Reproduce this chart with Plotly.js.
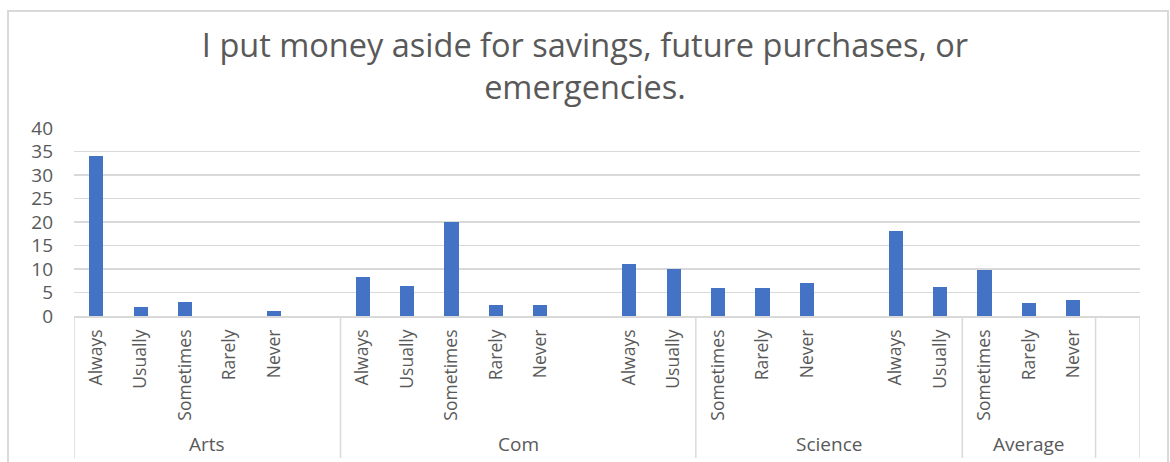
<!DOCTYPE html>
<html>
<head>
<meta charset="utf-8">
<script src="https://cdn.plot.ly/plotly-3.0.1.min.js"></script>
<style>
  html, body { margin: 0; padding: 0; background: #ffffff; }
  #chart { width: 1170px; height: 462px; }
</style>
</head>
<body>
<div id="chart"></div>
<script>
// ---- data ----
const titleText = "I put money aside for savings, future purchases, or<br>emergencies.";
const groupNames = ["Arts", "Com", "Science", "Average", ""];
const groupSizes = [6, 8, 6, 3, 1];
const categoryLabels = [
  "Always", "Usually", "Sometimes", "Rarely", "Never", "",
  "Always", "Usually", "Sometimes", "Rarely", "Never", "",
  "Always", "Usually", "Sometimes", "Rarely", "Never", "",
  "Always", "Usually", "Sometimes", "Rarely", "Never", ""
];
const values = [
  34, 2, 3, 0, 1, null,
  8.4, 6.4, 20, 2.4, 2.4, null,
  11, 10, 6, 6, 7, null,
  18, 6.2, 9.7, 2.8, 3.5, null
];
const yTicks = [0, 5, 10, 15, 20, 25, 30, 35, 40];

// ---- layout constants ----
const W = 1170, H = 462;
const mL = 74, mR = 30, mT = 128, mB = 146;
const plotH = H - mT - mB;
const plotW = W - mL - mR;
const textColor = "#595959";
const gridColor = "#d9d9d9";
const fontFam = "'Open Sans', 'DejaVu Sans', sans-serif";

const xIdx = categoryLabels.map((_, i) => i);
const pyToPaper = py => (H - mB - py) / plotH;
const pxToPaper = px => (px - mL) / plotW;

// group boundaries and label positions
const shapes = [];
const annotations = [];
let start = 0;
const boundaries = [-0.5];
groupSizes.forEach((n, g) => {
  const end = start + n;
  boundaries.push(end - 0.5);
  if (groupNames[g]) {
    annotations.push({
      x: (start + end - 1) / 2, xref: "x",
      y: pyToPaper(444), yref: "paper",
      text: groupNames[g], showarrow: false,
      xanchor: "center", yanchor: "middle",
      font: { family: fontFam, size: 19, color: textColor }
    });
  }
  start = end;
});
boundaries.forEach(b => {
  shapes.push({
    type: "line", xref: "x", yref: "paper",
    x0: b, x1: b, y0: 0, y1: pyToPaper(458),
    line: { color: gridColor, width: 1.5 }, layer: "below"
  });
});
// outer chart border
shapes.push({
  type: "rect", xref: "paper", yref: "paper",
  x0: pxToPaper(8), x1: pxToPaper(1168),
  y0: pyToPaper(475), y1: pyToPaper(11),
  line: { color: gridColor, width: 2 }, fillcolor: "rgba(0,0,0,0)", layer: "below"
});

const trace = {
  type: "bar",
  x: xIdx,
  y: values,
  width: 0.32,
  marker: { color: "#4472C4", line: { width: 0 } },
  hoverinfo: "y"
};

const layout = {
  width: W, height: H,
  margin: { l: mL, r: mR, t: mT, b: mB, pad: 0 },
  paper_bgcolor: "#ffffff",
  plot_bgcolor: "#ffffff",
  showlegend: false,
  title: {
    text: titleText,
    font: { family: fontFam, size: 32.5, color: textColor },
    x: 0.5, xanchor: "center",
    y: 1 - 57 / H, yanchor: "middle", yref: "container"
  },
  xaxis: {
    type: "linear",
    range: [-0.5, categoryLabels.length - 0.5],
    tickmode: "array",
    tickvals: xIdx,
    ticktext: categoryLabels,
    tickangle: -90,
    ticks: "",
    ticklabelstandoff: 5,
    showgrid: false,
    zeroline: false,
    showline: true,
    linecolor: gridColor,
    linewidth: 1.5,
    tickfont: { family: fontFam, size: 17.5, color: textColor },
    fixedrange: true
  },
  yaxis: {
    range: [0, 40],
    tickmode: "array",
    tickvals: yTicks,
    ticktext: yTicks.map(String),
    showgrid: true,
    gridcolor: gridColor,
    gridwidth: 1.5,
    zeroline: false,
    showline: false,
    ticks: "",
    ticklabelstandoff: 20,
    tickfont: { family: fontFam, size: 19, color: textColor },
    fixedrange: true
  },
  bargap: 0,
  shapes: shapes,
  annotations: annotations
};

Plotly.newPlot("chart", [trace], layout, { displayModeBar: false, staticPlot: true });
</script>
</body>
</html>
